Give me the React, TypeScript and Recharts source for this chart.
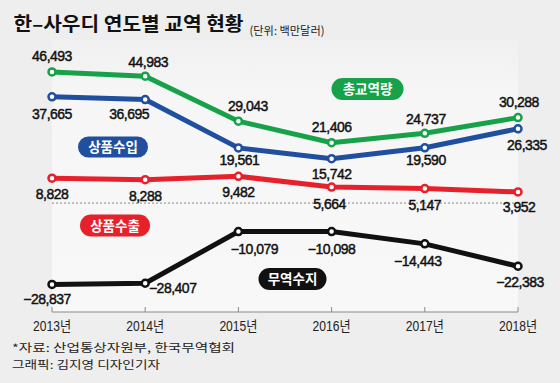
import React from 'react';
import { LineChart, Line, XAxis, YAxis, ReferenceLine, LabelList } from 'recharts';

const years = ['2013년', '2014년', '2015년', '2016년', '2017년', '2018년'];
const totalTrade = [46493, 44983, 29043, 21406, 24737, 30288];
const imports = [37665, 36695, 19561, 15742, 19590, 26335];
const exportsArr = [8828, 8288, 9482, 5664, 5147, 3952];
const balance = [-28837, -28407, -10079, -10098, -14443, -22383];

const data = years.map((year, i) => ({
  year,
  total: totalTrade[i],
  imports: imports[i],
  exports: exportsArr[i],
  balance: balance[i],
}));

// label offsets (styling) relative to each point
const totalOffsets = [[0, -16], [3, -14], [9.5, -15], [0, -16], [1, -14], [1, -16]];
const importOffsets = [[0, 17], [-16, 14], [1, 12], [0, 15], [1, 12.5], [9, 16.6]];
const exportOffsets = [[0, 16], [0, 16], [0, 16], [-2, 16.6], [0, 16], [1, 15]];
const balanceOffsets = [[-5, 15], [27.5, 5], [16, 17], [0, 17], [-7, 17], [2, 16]];

const GREEN = '#17a24a';
const BLUE = '#1f4f9e';
const RED = '#e6212b';
const BLACK = '#111111';

const fmt = (v: number) => (v < 0 ? '\u2212' : '') + Math.abs(v).toLocaleString('en-US');

const makeLabel = (offsets: number[][]) => (props: any) => {
  const { value, index } = props;
  const x = props.x ?? props.viewBox?.x;
  const y = props.y ?? props.viewBox?.y;
  const off = offsets[index] || [0, 0];
  return (
    <text
      x={x + off[0]}
      y={y + off[1] + 5}
      textAnchor="middle"
      fontSize={14}
      letterSpacing={-0.5}
      fontFamily="'Liberation Sans', Arial, sans-serif"
      fill="#111"
      stroke="#111"
      strokeWidth={0.45}
    >
      {fmt(value)}
    </text>
  );
};

const YearTick = (props: any) => {
  const { x, y, payload } = props;
  return (
    <g>
      <line x1={x} x2={x} y1={y - 5} y2={y} stroke="#8a8a8a" strokeWidth={1} />
      <text
        x={x}
        y={y + 19}
        textAnchor="middle"
        fontSize={14}
        textLength={38}
        lengthAdjust="spacingAndGlyphs"
        fontFamily="'Liberation Sans', 'Noto Sans CJK KR', sans-serif"
        fill="#222"
      >
        {payload.value}
      </text>
    </g>
  );
};

const dotStyle = (color: string) => ({ r: 3.5, fill: '#fff', stroke: color, strokeWidth: 2.5 });

const Pill = ({ cx, cy, w, h, color, text }: any) => (
  <g>
    <rect x={cx - w / 2} y={cy - h / 2} width={w} height={h} rx={h / 2} fill={color} />
    <text
      x={cx}
      y={cy + 5}
      textAnchor="middle"
      fontSize={13.5}
      fontWeight="bold"
      fill="#fff"
      fontFamily="'Noto Sans CJK KR', sans-serif"
    >
      {text}
    </text>
  </g>
);

export default function App() {
  return (
    <div
      style={{
        position: 'absolute',
        left: 0,
        top: 0,
        width: 560,
        height: 383,
        background: '#eeeeee',
        fontFamily: "'Noto Sans CJK KR', sans-serif",
        overflow: 'hidden',
      }}
    >
      <div
        style={{
          position: 'absolute',
          left: 52,
          top: 40,
          width: 466,
          height: 272,
          background: 'linear-gradient(to bottom, #f0f0f0 0%, #f6f6f6 20%, #f8f8f8 100%)',
        }}
      />
      <div style={{ position: 'absolute', left: 0, top: 0 }}>
        <LineChart
          width={560}
          height={383}
          data={data}
          margin={{ top: 62, right: 42, bottom: 41, left: 52 }}
        >
          <XAxis
            dataKey="year"
            axisLine={{ stroke: '#8a8a8a', strokeWidth: 1 }}
            tickLine={false}
            tickSize={0}
            tickMargin={0}
            height={30}
            interval={0}
            tick={<YearTick />}
          />
          <YAxis hide domain={[-38600, 50000]} allowDataOverflow type="number" />
          <ReferenceLine y={0} stroke="#888" strokeDasharray="2 2" strokeWidth={1} />
          <Line
            dataKey="total"
            stroke={GREEN}
            strokeWidth={5}
            dot={dotStyle(GREEN)}
            activeDot={false}
            isAnimationActive={false}
          >
            <LabelList dataKey="total" content={makeLabel(totalOffsets)} />
          </Line>
          <Line
            dataKey="imports"
            stroke={BLUE}
            strokeWidth={5}
            dot={dotStyle(BLUE)}
            activeDot={false}
            isAnimationActive={false}
          >
            <LabelList dataKey="imports" content={makeLabel(importOffsets)} />
          </Line>
          <Line
            dataKey="exports"
            stroke={RED}
            strokeWidth={5}
            dot={dotStyle(RED)}
            activeDot={false}
            isAnimationActive={false}
          >
            <LabelList dataKey="exports" content={makeLabel(exportOffsets)} />
          </Line>
          <Line
            dataKey="balance"
            stroke={BLACK}
            strokeWidth={5}
            dot={dotStyle(BLACK)}
            activeDot={false}
            isAnimationActive={false}
          >
            <LabelList dataKey="balance" content={makeLabel(balanceOffsets)} />
          </Line>
        </LineChart>
      </div>
      <svg
        width={560}
        height={383}
        style={{ position: 'absolute', left: 0, top: 0, pointerEvents: 'none' }}
      >
        <text
          x={13.5}
          y={31}
          fontSize={19}
          fontWeight="bold"
          textLength={230}
          lengthAdjust="spacingAndGlyphs"
          fill="#111"
          fontFamily="'Noto Sans CJK KR', sans-serif"
        >
          한–사우디 연도별 교역 현황
        </text>
        <text
          x={249.5}
          y={35}
          fontSize={11.5}
          textLength={75}
          lengthAdjust="spacingAndGlyphs"
          fill="#222"
          fontFamily="'Noto Sans CJK KR', sans-serif"
        >
          (단위: 백만달러)
        </text>
        <Pill cx={367.5} cy={89} w={72} h={22} color={GREEN} text="총교역량" />
        <Pill cx={113} cy={147} w={70} h={21} color={BLUE} text="상품수입" />
        <Pill cx={115} cy={225.5} w={70} h={22} color={RED} text="상품수출" />
        <Pill cx={292.5} cy={279} w={68} h={22} color={BLACK} text="무역수지" />
        <text
          x={12}
          y={352}
          fontSize={11}
          textLength={223}
          lengthAdjust="spacingAndGlyphs"
          fill="#222"
          fontFamily="'Noto Sans CJK KR', sans-serif"
        >
          *자료: 산업통상자원부, 한국무역협회
        </text>
        <text
          x={12}
          y={368.5}
          fontSize={11}
          textLength={148}
          lengthAdjust="spacingAndGlyphs"
          fill="#222"
          fontFamily="'Noto Sans CJK KR', sans-serif"
        >
          그래픽: 김지영 디자인기자
        </text>
      </svg>
    </div>
  );
}
